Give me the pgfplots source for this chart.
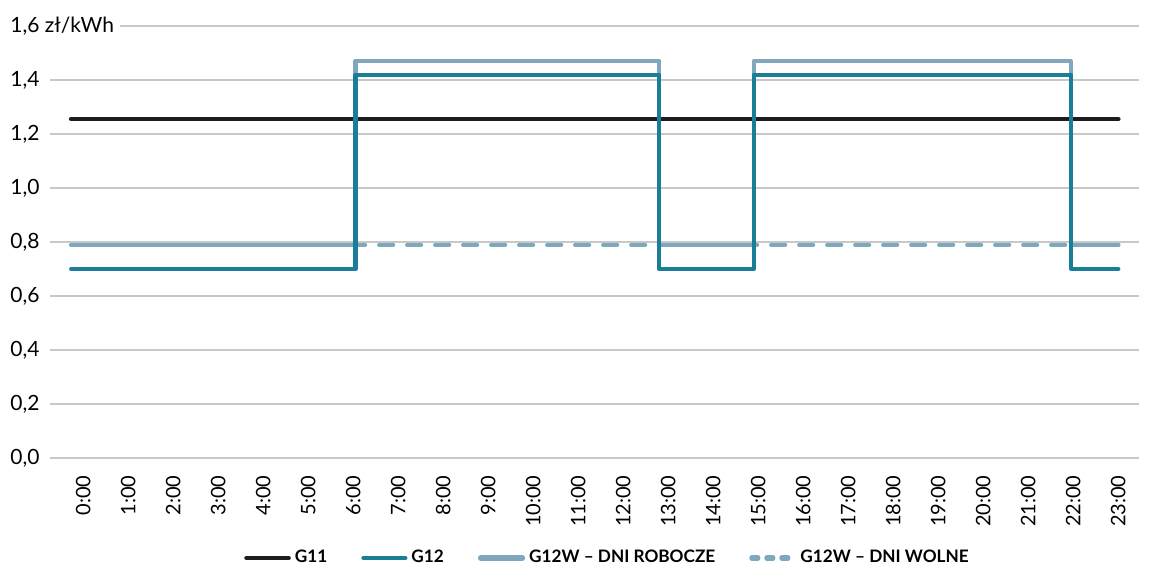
\documentclass[border=0pt]{standalone}
\usepackage{fontspec}
\setmainfont{Lato}
\usepackage{pgfplots}
\pgfplotsset{compat=1.18}

\definecolor{gBlack}{HTML}{1D1D20}
\definecolor{gTeal}{HTML}{1B7E99}
\definecolor{gLight}{HTML}{7FA7BE}
\definecolor{gGrid}{HTML}{C8C8C8}

\begin{document}
\begin{tikzpicture}
\useasboundingbox (-25pt,-55pt) rectangle (554pt,229pt);
\begin{axis}[
  at={(0,0)}, anchor=south west,
  scale only axis,
  width=544.5pt, height=216pt,
  xmin=-0.74, xmax=23.46,
  ymin=0, ymax=1.6,
  axis line style={draw=none},
  major tick length=0pt,
  ymajorgrids,
  grid style={gGrid, line width=0.6pt},
  ytick={0,0.2,...,1.6},
  yticklabels={{0,0},{0,2},{0,4},{0,6},{0,8},{1,0},{1,2},{1,4},{1,6 zł/kWh}},
  yticklabel style={anchor=west, xshift=-23pt, inner xsep=3pt, fill=white,
    font=\fontsize{10.5}{12}\selectfont, text=black},
  xtick={0,...,23},
  xticklabels={0:00,1:00,2:00,3:00,4:00,5:00,6:00,7:00,8:00,9:00,10:00,11:00,
    12:00,13:00,14:00,15:00,16:00,17:00,18:00,19:00,20:00,21:00,22:00,23:00},
  xticklabel style={rotate=90, anchor=east, inner xsep=8.5pt,
    font=\fontsize{10}{12}\selectfont, text=black},
  legend columns=4,
  legend style={at={(axis description cs:0.5,0)}, anchor=center,
    yshift=-50pt, xshift=7pt, draw=none, fill=none,
    font=\fontsize{8.6}{10}\selectfont\bfseries,
    /tikz/every even column/.append style={column sep=15pt},
    inner sep=0pt},
  legend cell align=left,
  legend image code/.code={\draw[#1] (0pt,0pt) -- (21pt,0pt);},
  every axis plot/.append style={line width=2.1pt, line join=round, line cap=round},
]
% flat-rate tariff
\addplot[gBlack, line width=2.3pt] coordinates {(-0.27,1.255) (23,1.255)};
\addlegendentry{G11}
% weekend G12W rate
\addplot[gLight, dash pattern=on 7pt off 7pt, forget plot]
  coordinates {(-0.27,0.79) (23,0.79)};
% weekday G12W rate
\addplot[gLight, forget plot] coordinates {
  (-0.27,0.79) (6.05,0.79) (6.05,1.47) (12.8,1.47) (12.8,0.79)
  (14.9,0.79) (14.9,1.47) (21.95,1.47) (21.95,0.79) (23,0.79)};
% two-zone tariff
\addplot[gTeal] coordinates {
  (-0.27,0.70) (6.05,0.70) (6.05,1.42) (12.8,1.42) (12.8,0.70)
  (14.9,0.70) (14.9,1.42) (21.95,1.42) (21.95,0.70) (23,0.70)};
\addlegendentry{G12}
\addlegendimage{gLight, line width=2.6pt, line cap=round}
\addlegendentry{G12W – DNI ROBOCZE}
\addlegendimage{gLight, line width=2.6pt, line cap=round, dash pattern=on 3pt off 4.5pt}
\addlegendentry{G12W – DNI WOLNE}
\end{axis}
\end{tikzpicture}
\end{document}
